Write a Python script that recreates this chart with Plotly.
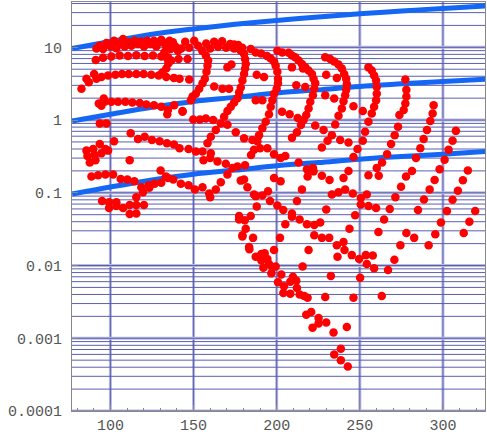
import plotly.graph_objects as go

# --- reference curves (blue) ---
curve_x = [77, 100, 125, 150, 175, 200, 225, 250, 275, 300, 326]
curve_hi = [9.6, 12.0, 15.1, 17.9, 20.7, 23.4, 26.2, 28.9, 31.6, 34.2, 37.0]
curve_mid = [0.97, 1.2, 1.5, 1.8, 2.05, 2.35, 2.6, 2.9, 3.15, 3.4, 3.65]
curve_lo = [0.096, 0.12, 0.15, 0.18, 0.205, 0.235, 0.26, 0.29, 0.315, 0.34, 0.37]

# --- red points, grouped by region ---
band_x = [91.6, 93.4, 95.6, 97.6, 100.2, 102.2, 103.6, 105.6, 107.6, 108.6, 111, 112.6, 114.6, 116.6, 118.6,
          120.2, 122.2, 124.2, 126.2, 127.6, 129, 130.6, 132.2, 133.6, 135.6, 136.2, 137.6, 139, 140.6, 142.6,
          145, 147.4, 150.4, 152.8, 155.2, 157.6, 160, 162.4, 164.8, 167.2, 169.6, 172, 174.4, 176.8, 179.2]
band_y = [9.6, 10.5, 9.5, 11.5, 10.3, 12.3, 9.7, 11.1, 13.0, 10.3, 11.7, 10.5, 12.3, 11.1, 12.0,
          10.3, 12.3, 11.1, 12.3, 10.3, 11.7, 12.7, 11.5, 10.3, 12.3, 9.5, 11.7, 10.3, 9.0, 9.6,
          11.9, 9.9, 12.3, 10.5, 9.0, 11.3, 9.6, 11.9, 10.2, 12.1, 9.9, 11.1, 9.6, 10.8, 9.9]

upper_x = [91.2, 95.6, 100.6, 105.6, 110.6, 115.6, 120.6, 125.6, 130.6, 134.6, 136.6, 141, 146.4,
           82.6, 85.6, 87, 90.2, 91.6, 94.6, 98.6, 103, 107, 111, 115.6, 120, 124.6, 129, 133.6, 138.2, 141.6,
           147.4, 162.4, 167.4, 171.4,
           132.4, 134.2, 134.8, 133.6, 131.2,
           93, 94.6, 96, 96.6, 100.6, 104.6, 109, 113.2, 117.6, 121.6, 126.2, 130.6, 134.6, 134.2, 138.4, 143.4,
           93.6, 97.6]
upper_y = [6.7, 7.2, 7.5, 7.7, 7.6, 7.8, 7.6, 7.7, 7.5, 7.3, 6.6, 6.9, 6.9,
           2.7, 3.7, 3.3, 4.3, 3.7, 3.9, 4.1, 4.2, 4.3, 4.3, 4.3, 4.3, 4.2, 4.1, 3.9, 3.8, 3.7,
           3.6, 2.9, 2.7, 2.7,
           8.5, 7.0, 6.0, 5.1, 4.5,
           1.69, 1.57, 1.98, 1.78, 1.78, 1.78, 1.78, 1.74, 1.71, 1.64, 1.60, 1.52, 1.37, 1.20, 1.60, 1.33,
           0.90, 0.90]

middle_x = [112.2, 116.6, 120.6, 125, 129.6, 134, 138.2, 141.6, 147, 151.4, 155.4,
            149.8, 153.8, 157.4, 161.8, 166.4, 170.4, 175.4, 180.4, 185.4,
            85.6, 86.2, 87.6, 89.6, 90.6, 91, 93.6, 94.6, 97, 98.6, 102.2, 111.6]
middle_y = [0.66, 0.55, 0.59, 0.53, 0.51, 0.48, 0.46, 0.41, 0.40, 0.37, 0.37,
            1.02, 1.02, 1.05, 1.0, 0.90, 0.86, 0.68, 0.56, 0.53,
            0.38, 0.32, 0.26, 0.40, 0.33, 0.28, 0.47, 0.35, 0.40, 0.38, 0.51, 0.28]

lower_x = [88.6, 92.6, 97, 101.6, 106.2, 110.2, 114.4, 118.6, 115.6, 123, 126.6, 130.2, 130.6, 134.6,
           95, 99.2, 99.2, 103.6, 103.6, 107.6, 111.6, 111.6, 115.6, 115.6, 119.6, 120.2, 123.4,
           133.4, 137.8, 142.4, 147, 150.8, 155.4, 159.4, 160, 163.4, 166.4, 170.4, 173.4, 176.4, 178.4,
           180.4, 182.4, 186.4, 187.4, 191.4, 194.8, 198.4, 202.4]
lower_y = [0.168, 0.174, 0.178, 0.178, 0.155, 0.152, 0.144, 0.119, 0.087, 0.127, 0.133, 0.203, 0.137, 0.160,
           0.077, 0.074, 0.062, 0.074, 0.066, 0.062, 0.068, 0.051, 0.068, 0.052, 0.102, 0.068, 0.117,
           0.168, 0.152, 0.133, 0.127, 0.111, 0.119, 0.098, 0.087, 0.111, 0.140, 0.178, 0.22, 0.23, 0.147,
           0.152, 0.119, 0.095, 0.090, 0.092, 0.105, 0.160, 0.144]

arc_x = [157.4, 158.8, 158.4, 157.8, 156.8, 155.4, 153.4, 151.4, 149.4, 148.4, 143.4, 170.4, 172.8,
         174.4, 176.4, 178.4, 180.4, 181, 181.4, 181, 180.4, 179.4, 178.4, 177.4, 176.4, 174.4, 172.4, 170.4,
         168.4, 163.4, 160.4, 158.4, 160.4, 156, 160, 164.4, 169.4,
         184.4, 187.4, 190.6, 194.2, 196.4, 198.4, 199.4, 200.4, 200.8, 200.8, 200, 198.4, 197.4, 196.4, 195.4,
         193.4, 191.4, 189.4, 188.4, 186.4, 184.6, 181, 188, 192.4, 187.4, 191.4, 190, 194.4, 198.4, 202.4,
         200.4, 203.4, 207.2, 209.2, 211.2, 213.2, 215.2, 217.2, 219.2, 221.2, 222.2, 223.2, 222.6, 221.8,
         220.2, 219.2, 217.8, 216.2, 214.6, 212.2, 209.2, 205.2,
         229.2, 232.2, 234.6, 237.2, 239.2, 240.6, 241.8, 242.2, 241.8, 241.2, 240.2, 239.2, 237.2, 235.2,
         233.2, 230.6, 227.2,
         255.2, 257.2, 258.6, 259.8, 260.2, 260.2, 259.8, 258.6, 257.2, 255.2, 253.2, 251.8, 248.6, 246.2, 243.2]
arc_y = [7.7, 6.6, 5.6, 4.6, 3.7, 3.2, 2.7, 2.3, 2.1, 1.87, 1.30, 5.3, 5.8,
         10.9, 10.0, 9.0, 8.1, 6.9, 5.9, 5.1, 4.3, 3.5, 2.8, 2.4, 2.0, 1.74, 1.52, 1.33,
         1.11, 0.73, 0.59, 0.48, 0.35, 0.28, 0.30, 0.27, 0.25,
         9.5, 8.5, 8.2, 7.6, 7.0, 6.4, 5.6, 4.6, 3.7, 3.2, 2.7, 2.3, 1.87, 1.52, 1.20,
         0.95, 0.77, 0.62, 0.51, 0.39, 0.33, 0.24, 4.2, 3.9, 1.87, 1.87, 0.41, 0.41, 0.34, 0.30,
         9.0, 8.5, 8.4, 7.7, 7.3, 6.6, 5.9, 5.3, 4.8, 4.3, 3.7, 3.2, 2.7, 2.19,
         1.78, 1.44, 1.17, 1.0, 0.855, 0.68, 0.57, 0.32,
         7.3, 6.9, 6.4, 5.8, 5.1, 4.3, 3.7, 3.1, 2.6, 2.19, 1.82, 1.44, 1.15, 0.87,
         0.62, 0.52, 0.42,
         5.3, 4.8, 4.1, 3.5, 2.85, 2.3, 1.87, 1.52, 1.23, 0.95, 0.69, 0.52, 0.40, 0.31, 0.20]

scatter_x = [209.2, 215.8, 211.8, 217.2, 229.8, 236.2, 229.2, 234.6, 246.2, 251.8, 203.2, 207.8, 212.6, 223.2,
             228.2, 238.2, 243.2, 213.2, 218.2, 221.8, 222.2, 218.6, 227.2, 231.8, 240.2, 255.2, 260.2]
scatter_y = [5.3, 5.1, 3.0, 2.85, 4.2, 3.8, 2.19, 1.98, 1.55, 1.33, 1.30, 1.20, 1.07, 0.84,
             0.73, 0.53, 0.49, 0.26, 0.21, 0.22, 0.197, 0.167, 0.172, 0.150, 0.160, 0.174, 0.22]

tail_x = [188.0, 196.0, 200.4, 204.0, 177.4, 177.4, 180.8, 184.4, 181.4, 179.4, 179.4, 185.8, 202.0, 183.4,
          183.6, 198.4, 187.4, 190.8, 192.8, 190.8, 194.4, 192.0, 195.4, 197.4, 199.4, 196.8, 200.8, 202.8,
          204.4, 204.0,
          215.2, 233.2, 237.2, 241.2, 245.8, 250.6, 254.2, 250.6, 255.2, 259.8, 209.2, 209.2, 212.2, 213.8,
          218.2, 222.6, 226.2, 229.8, 247.2, 243.8, 261.2, 264.6, 205.2, 222.6, 227.2, 231.6, 236.2, 240.2,
          240.8, 219.2, 236.6, 245.2, 249.6, 253.6, 254.2, 257.8, 258.6, 215.6, 232.6, 250.2, 208.2, 209.8,
          211.8, 212.2, 208.2, 213.8, 216.6, 218.6, 229.2, 246.2, 263.2, 217.8, 220.8, 225.2, 225.2, 229.8,
          221.6, 242.2, 234.2, 238.6, 234.6, 238.6, 242.8]
tail_y = [0.065, 0.077, 0.067, 0.058, 0.048, 0.043, 0.042, 0.048, 0.032, 0.026, 0.025, 0.024, 0.024, 0.018,
          0.0168, 0.0163, 0.0132, 0.0144, 0.0147, 0.0117, 0.0123, 0.0093, 0.0105, 0.0095, 0.0097, 0.0078,
          0.0059, 0.0075, 0.0052, 0.0042,
          0.111, 0.095, 0.102, 0.111, 0.098, 0.085, 0.095, 0.069, 0.066, 0.062, 0.052, 0.047, 0.077, 0.043,
          0.037, 0.036, 0.039, 0.059, 0.049, 0.032, 0.029, 0.043, 0.037, 0.026, 0.024, 0.024, 0.019, 0.021,
          0.0164, 0.0163, 0.0132, 0.0139, 0.0123, 0.0139, 0.0105, 0.0137, 0.0092, 0.0097, 0.0072, 0.0068,
          0.0060, 0.0070, 0.0062, 0.0049, 0.0041, 0.0040, 0.0038, 0.0036, 0.0037, 0.0036, 0.0038, 0.0021,
          0.0023, 0.0019, 0.0016, 0.00165, 0.0014, 0.00143, 0.0012, 0.00072, 0.00060, 0.00050, 0.00041]

right_x = [277.4, 278, 278, 277.4, 276.4, 273.8, 273, 271, 268.8, 266.4, 263.4, 261.4,
           294.4, 293.8, 292.4, 290.4, 288.4, 286.4, 283.8, 281.4, 277.8, 274.8, 271.4, 268,
           307.8, 305.8, 303.4, 301, 298, 295, 292, 288.6, 285, 278, 282.7,
           315, 312, 309, 305.8, 302.4, 298.8, 295.4, 291.4,
           319.4, 315.9, 312.5, 274.4, 270.8, 267]
right_y = [3.6, 2.6, 2.1, 1.69, 1.37, 1.17, 0.81, 0.62, 0.47, 0.34, 0.26, 0.172,
           1.60, 1.23, 0.97, 0.73, 0.55, 0.41, 0.30, 0.20, 0.168, 0.121, 0.087, 0.060,
           0.71, 0.52, 0.39, 0.284, 0.21, 0.150, 0.111, 0.081, 0.058, 0.028, 0.024,
           0.203, 0.149, 0.107, 0.080, 0.056, 0.039, 0.027, 0.019,
           0.056, 0.040, 0.028, 0.019, 0.0120, 0.0087]

y_ticks = [0.0001, 0.001, 0.01, 0.1, 1, 10]
y_labels = ["0.0001", "0.001", "0.01", "0.1", "1", "10"]
x_ticks = [100, 150, 200, 250, 300]

fig = go.Figure()

# grid lines, Mathematica style
for xv in x_ticks:
    fig.add_shape(type="line", xref="x", yref="paper", x0=xv, x1=xv, y0=0, y1=1,
                  line=dict(color="#b8badf", width=3), layer="below")
    fig.add_shape(type="line", xref="x", yref="paper", x0=xv, x1=xv, y0=0, y1=1,
                  line=dict(color="#6064b3", width=1), layer="below")
for dec in range(-4, 2):
    for m in range(1, 10):
        v = m * 10 ** dec
        if v > 42:
            break
        if m == 1:
            fig.add_shape(type="line", xref="paper", yref="y", x0=0, x1=1, y0=v, y1=v,
                          line=dict(color="#b8badf", width=3), layer="below")
        fig.add_shape(type="line", xref="paper", yref="y", x0=0, x1=1, y0=v, y1=v,
                      line=dict(color="#5b5fb0", width=1), layer="below")

for cy in (curve_hi, curve_mid, curve_lo):
    fig.add_trace(go.Scatter(x=curve_x, y=cy, mode="lines", line=dict(color="#1467f5", width=5, shape="spline"),
                             hoverinfo="skip"))

for xs, ys in ((band_x, band_y), (upper_x, upper_y), (middle_x, middle_y), (lower_x, lower_y),
               (arc_x, arc_y), (scatter_x, scatter_y), (tail_x, tail_y), (right_x, right_y)):
    fig.add_trace(go.Scatter(x=xs, y=ys, mode="markers", marker=dict(color="#ff0000", size=8.5)))

tick_font = dict(family="Liberation Mono, Courier New, monospace", size=15, color="#555555")
fig.update_xaxes(range=[76.9, 325.3], showgrid=False, zeroline=False, tickvals=x_ticks,
                 ticks="inside", ticklen=6, tickcolor="#888888",
                 minor=dict(dtick=10, ticks="inside", ticklen=3, tickcolor="#888888"),
                 showline=True, linecolor="#888888", linewidth=1, mirror=True, tickfont=tick_font)
fig.update_yaxes(type="log", range=[-4, 1.623], showgrid=False, zeroline=False,
                 tickvals=y_ticks, ticktext=y_labels, ticks="inside", ticklen=6, tickcolor="#888888",
                 showline=True, linecolor="#888888", linewidth=1, mirror=True, tickfont=tick_font,
                 ticklabelstandoff=6)
fig.update_layout(width=487, height=436, margin=dict(l=72, r=1, t=1, b=23),
                  paper_bgcolor="white", plot_bgcolor="white", showlegend=False)

fig.write_html("out.html", config={"displayModeBar": False},
               post_script="document.body.style.margin='0px';")
